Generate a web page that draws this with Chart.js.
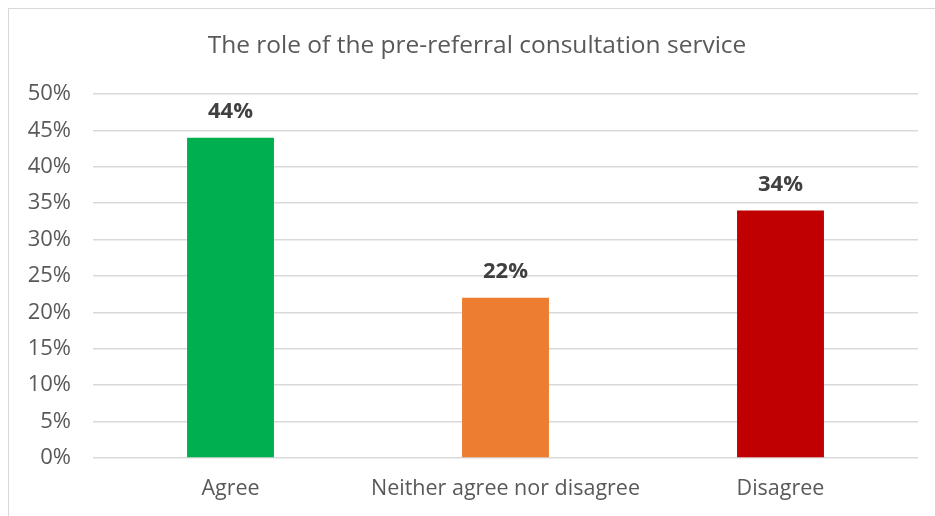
<!DOCTYPE html>
<html>
<head>
<meta charset="utf-8">
<script src="https://cdn.jsdelivr.net/npm/chart.js@4.4.1/dist/chart.umd.min.js"></script>
<style>
  html, body { margin: 0; padding: 0; background: #ffffff; }
  #wrap { position: relative; width: 935px; height: 516px; overflow: hidden; }
  #frame { position: absolute; left: 8px; top: 8px; width: 960px; height: 560px;
           border: 1.5px solid #d9d9d9; box-sizing: border-box; }
  #c { position: absolute; left: 0; top: 0; }
</style>
</head>
<body>
<div id="wrap">
  <div id="frame"></div>
  <canvas id="c" width="935" height="516"></canvas>
</div>
<script>
const categories = ['Agree', 'Neither agree nor disagree', 'Disagree'];
const shares = [44, 22, 34];
const barColors = ['#00b050', '#ed7d31', '#c00000'];
const yTicks = [0, 5, 10, 15, 20, 25, 30, 35, 40, 45, 50];

const FONT = '"Open Sans", "Liberation Sans", sans-serif';

// Percentage label drawn above each bar
const valueLabels = {
  id: 'valueLabels',
  afterDatasetsDraw(chart) {
    const ctx = chart.ctx;
    const meta = chart.getDatasetMeta(0);
    ctx.save();
    ctx.font = 'bold 22px ' + FONT;
    ctx.fillStyle = '#404040';
    ctx.textAlign = 'center';
    ctx.textBaseline = 'middle';
    meta.data.forEach((bar, i) => {
      ctx.fillText(shares[i] + '%', bar.x, bar.y - 26);
    });
    ctx.restore();
  }
};

// Center the title across the framed area rather than the full canvas
const titleSpan = {
  id: 'titleSpan',
  afterLayout(chart) {
    const t = chart.titleBlock;
    if (t) { t.left = 19; t.right = 935; }
  }
};

new Chart(document.getElementById('c'), {
  type: 'bar',
  data: {
    labels: categories,
    datasets: [{
      data: shares,
      backgroundColor: barColors,
      borderWidth: 0,
      categoryPercentage: 1,
      barPercentage: 0.316
    }]
  },
  options: {
    responsive: false,
    animation: false,
    layout: { padding: { top: 0, right: 17, bottom: 0, left: 0 } },
    plugins: {
      legend: { display: false },
      tooltip: { enabled: false },
      title: {
        display: true,
        text: 'The role of the pre-referral consultation service',
        color: '#595959',
        font: { family: FONT, size: 24.5, weight: 'normal', lineHeight: 1.2 },
        padding: { top: 31, bottom: 33.6 }
      }
    },
    scales: {
      x: {
        grid: { display: false },
        border: { display: false },
        ticks: {
          color: '#595959',
          font: { family: FONT, size: 21.5 },
          padding: 10,
          maxRotation: 0
        },
        afterFit(scale) { scale.height = 58; }
      },
      y: {
        min: 0,
        max: 50,
        afterBuildTicks(scale) { scale.ticks = yTicks.map(v => ({ value: v })); },
        grid: { color: '#d9d9d9', lineWidth: 1.5, drawTicks: false },
        border: { display: false },
        ticks: {
          color: '#595959',
          font: { family: FONT, size: 22 },
          padding: 22,
          callback: v => v + '%'
        },
        afterFit(scale) { scale.width = 93; }
      }
    }
  },
  plugins: [valueLabels, titleSpan]
});
</script>
</body>
</html>
